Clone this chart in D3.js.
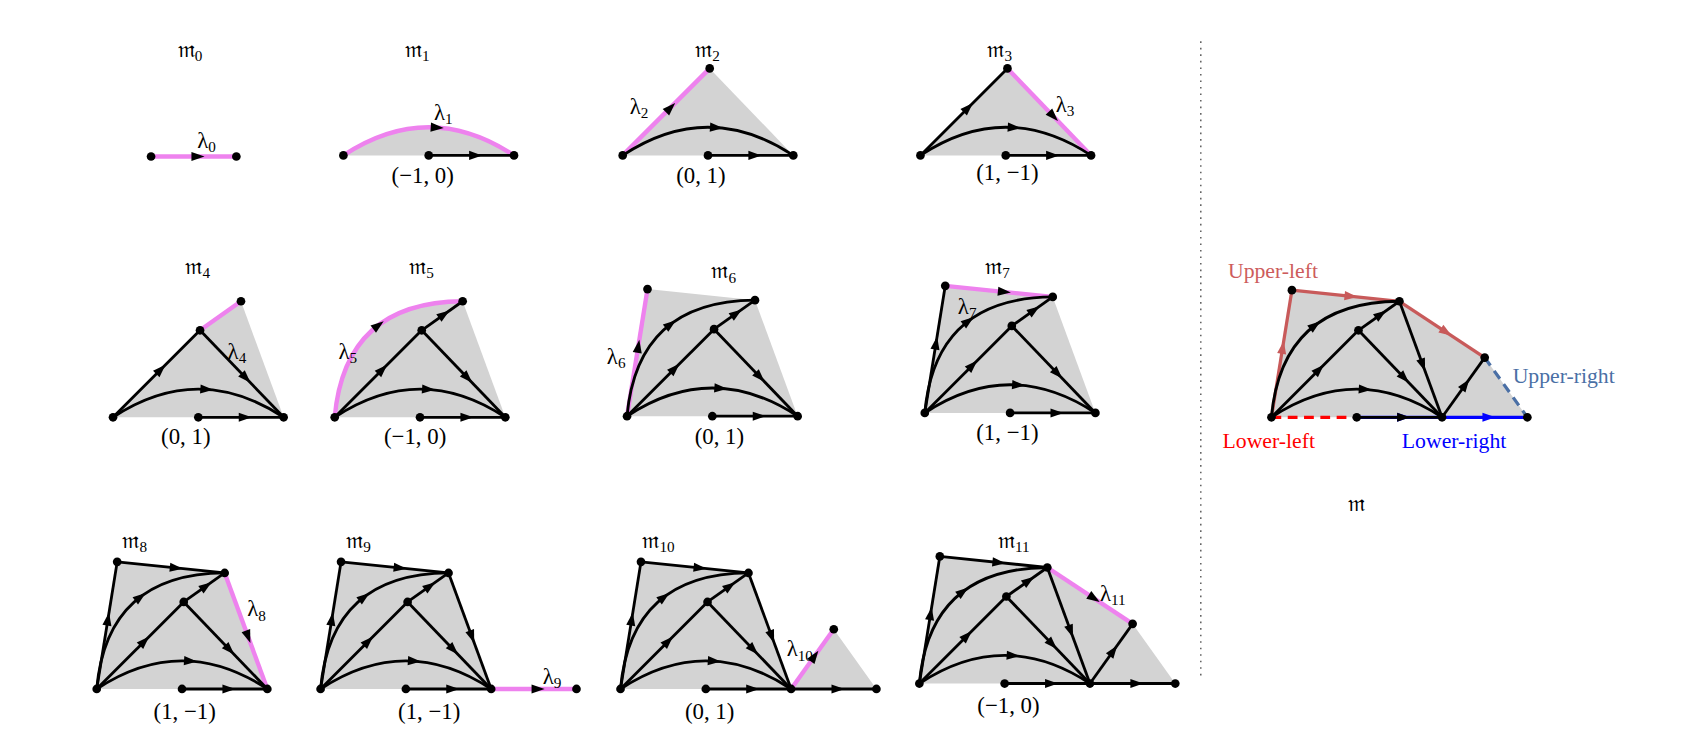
<!DOCTYPE html>
<html><head><meta charset="utf-8">
<script src="https://cdn.jsdelivr.net/npm/d3@7"></script>
<style>body{margin:0;background:#fff}text{font-family:"Liberation Serif","DejaVu Serif",serif}</style>
</head><body><div id="chart"></div>
<script>
// canonical vertex positions (units; one unit = half the base)
var vertexNames = ["L","mid","R","F","C","T2","TL","Q"];
var vertexX = [0, 1, 2, 3, 1.02, 1.5, 0.24, 2.5];
var vertexY = [0, 0, 0, 0, 1.02, 1.36, 1.49, 0.7];
// arc control points
var arcKeys = ["L~R", "L~T2"];
var arcCtrl = [[1, 0.66], [0.12, 1.35]];

var core = ["L~T2:k","L-C:k","C-T2:k","C-R:k","L~R:k","mid-R:k"];
var panelNames = ["0","1","2","3","4","5","6","7","8","9","10","11",""];
var panelOrigin = [[139,144],[316,143],[573,143],[847,143],[104,384],[308,384],[577,383],[851,380],[89,634],[295,634],[571,634],[846,629],[1170,384]];
var panelTitle = [[175,52],[384,52],[651,52],[920,52],[182,252],[388,252],[666,256],[918,252],[124,504],[330,504],[606,504],[933,504],[1248,470]];
var panelFill = [[],["L","~R"],["L","C","R"],["L","C","R"],["L","C","T2","R"],["L","~T2","R"],
  ["L","TL","T2","R"],["L","TL","T2","R"],["L","TL","T2","R"],["L","TL","T2","R"],
  ["L","TL","T2","R","Q","F"],["L","TL","T2","Q","F"],["L","TL","T2","Q","F"]];
var panelEdges = [
  ["L-mid:p"],
  ["L~R:p","mid-R:k"],
  ["L-C:p","L~R:k","mid-R:k"],
  ["L-C:k","C-R:p","L~R:k","mid-R:k"],
  ["L-C:k","C-R:k","L~R:k","mid-R:k","C-T2:pn"],
  ["L-C:k","C-R:k","L~R:k","mid-R:k","C-T2:k","L~T2:p"],
  ["L-TL:p"].concat(core),
  ["L-TL:k","TL-T2:p"].concat(core),
  ["L-TL:k","TL-T2:k","T2-R:p"].concat(core),
  ["L-TL:k","TL-T2:k","T2-R:k","R-F:p"].concat(core),
  ["L-TL:k","TL-T2:k","T2-R:k","R-Q:p","R-F:k"].concat(core),
  ["L-TL:k","TL-T2:k","T2-R:k","T2-Q:p","R-Q:k","R-F:k"].concat(core),
  ["L-TL:r","TL-T2:r","T2-Q:r","Q-F:sd","L-mid:ed","mid-R:b","R-F:b","T2-R:k","R-Q:k"].concat(core)
];
var panelCoord = ["","(−1, 0)","(0, 1)","(1, −1)","(0, 1)","(−1, 0)","(0, 1)","(1, −1)","(1, −1)","(1, −1)","(0, 1)","(−1, 0)",""];
var coordPos = [null,[389,168],[645,168],[927,166],[171,409],[382,409],[662,409],[927,405],[170,662],[395,662],[653,662],[928,656],null];
var lambdaPos = [[190,136],[408,110],[588,105],[980,103],[218,330],[320,330],[567,335],[890,289],[236,567],[508,629],[736,604],[1024,553],null];

var sideLabels = ["Upper-left","Upper-right","Lower-left","Lower-right"];
var sideColors = ["#cd5c5c","#4a6fa5","#ff0000","#0000ff"];
var sidePos = [[1130,256],[1392,352],[1125,412],[1290,412]];

var colors = {k:"#000", p:"#ee82ee", r:"#c85a5a", b:"#0000ff", s:"#4a6fa5", e:"#ff0000"};
var U = 78.5;

var svg = d3.select("#chart").append("svg").attr("width",1704).attr("height",755);
var root = svg.append("g").attr("transform","scale(1.0867)");

root.append("line").attr("x1",1105).attr("x2",1105).attr("y1",38).attr("y2",625)
  .attr("stroke","#555").attr("stroke-width",1.3).attr("stroke-dasharray","1.5,4.5");

function vid(n){ return vertexNames.indexOf(n); }

panelNames.forEach(function(name, i){
  var o = panelOrigin[i];
  var x = d3.scaleLinear().domain([0,1]).range([o[0], o[0]+U]);
  var y = d3.scaleLinear().domain([0,1]).range([o[1], o[1]-U]);
  var P = function(n){ var j = vid(n); return [x(vertexX[j]), y(vertexY[j])]; };
  var ctrl = function(a,b){ var c = arcCtrl[arcKeys.indexOf(a+"~"+b)]; return [x(c[0]), y(c[1])]; };
  var g = root.append("g");

  // fill
  var f = panelFill[i];
  if (f.length){
    var p = d3.path(), prev = f[0], s = P(prev);
    p.moveTo(s[0], s[1]);
    f.slice(1).forEach(function(t){
      if (t[0] === "~"){ var n = t.slice(1), c = ctrl(prev,n), e = P(n); p.quadraticCurveTo(c[0],c[1],e[0],e[1]); prev = n; }
      else { var e2 = P(t); p.lineTo(e2[0], e2[1]); prev = t; }
    });
    p.closePath();
    g.append("path").attr("d", p.toString()).attr("fill","#d3d3d3");
  }

  var used = {};
  // coloured edges first, black on top
  var edges = panelEdges[i].slice().sort(function(a,b){ return (a.split(":")[1]==="k") - (b.split(":")[1]==="k"); });
  edges.forEach(function(spec){
    var parts = spec.split(":"), st = parts[1], curved = parts[0].indexOf("~") >= 0;
    var ab = parts[0].split(curved ? "~" : "-"), a = P(ab[0]), b = P(ab[1]);
    used[ab[0]] = used[ab[1]] = true;
    var col = colors[st[0]], dashed = st.indexOf("d") >= 0, noArrow = st.indexOf("n") >= 0;
    var w = st[0]==="k" ? 2.6 : (st[0]==="p" ? 4 : 3);
    var p = d3.path(); p.moveTo(a[0],a[1]);
    var pt, tg, t = 0.55;
    if (curved){
      var c = ctrl(ab[0], ab[1]);
      p.quadraticCurveTo(c[0],c[1],b[0],b[1]);
      pt = [(1-t)*(1-t)*a[0]+2*t*(1-t)*c[0]+t*t*b[0], (1-t)*(1-t)*a[1]+2*t*(1-t)*c[1]+t*t*b[1]];
      tg = [2*(1-t)*(c[0]-a[0])+2*t*(b[0]-c[0]), 2*(1-t)*(c[1]-a[1])+2*t*(b[1]-c[1])];
    } else {
      p.lineTo(b[0],b[1]);
      pt = [a[0]+t*(b[0]-a[0]), a[1]+t*(b[1]-a[1])]; tg = [b[0]-a[0], b[1]-a[1]];
    }
    g.append("path").attr("d", p.toString()).attr("fill","none").attr("stroke",col)
      .attr("stroke-width",w).attr("stroke-dasharray", dashed ? "9,6" : null);
    if (!dashed && !noArrow){
      var ang = Math.atan2(tg[1], tg[0]) * 180 / Math.PI;
      var ac = st[0]==="p" ? "#000" : col;
      g.append("path").attr("d","M6,0L-6,-4.2L-6,4.2Z").attr("fill",ac)
        .attr("transform","translate("+pt[0]+","+pt[1]+") rotate("+ang+")");
    }
  });

  Object.keys(used).forEach(function(n){
    var q = P(n);
    g.append("circle").attr("cx",q[0]).attr("cy",q[1]).attr("r",4).attr("fill","#000");
  });

  var tt = g.append("text").attr("x",panelTitle[i][0]).attr("y",panelTitle[i][1])
    .attr("text-anchor","middle").attr("font-size",21).text("𝔪");
  if (name !== "") tt.append("tspan").attr("font-size",14).attr("dy",4).text(name);

  if (coordPos[i]) g.append("text").attr("x",coordPos[i][0]).attr("y",coordPos[i][1])
    .attr("text-anchor","middle").attr("font-size",21).text(panelCoord[i]);
  if (lambdaPos[i]){
    var lt = g.append("text").attr("x",lambdaPos[i][0]).attr("y",lambdaPos[i][1])
      .attr("text-anchor","middle").attr("font-size",21).text("λ");
    lt.append("tspan").attr("font-size",14).attr("dy",4).text(name);
  }
});

sideLabels.forEach(function(s, i){
  root.append("text").attr("x",sidePos[i][0]).attr("y",sidePos[i][1]).attr("font-size",20)
    .attr("fill",sideColors[i]).text(s);
});
</script></body></html>
